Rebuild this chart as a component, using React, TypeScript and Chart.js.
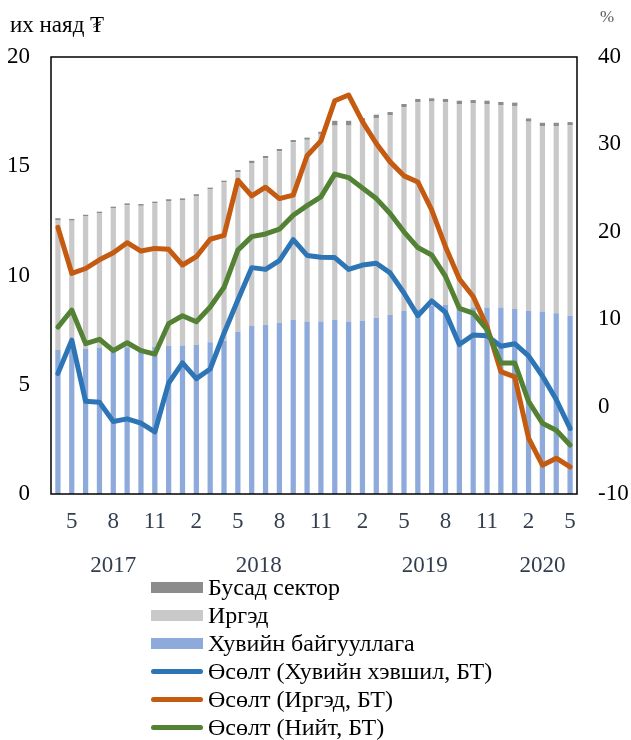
import React, { useEffect, useRef } from 'react';
import { Chart, registerables } from 'chart.js';

Chart.register(...registerables);

// ---- DATA ----
const categoryYears = [
  2017, 2017, 2017, 2017, 2017, 2017, 2017, 2017, 2017,
  2018, 2018, 2018, 2018, 2018, 2018, 2018, 2018, 2018, 2018, 2018, 2018,
  2019, 2019, 2019, 2019, 2019, 2019, 2019, 2019, 2019, 2019, 2019, 2019,
  2020, 2020, 2020, 2020, 2020,
];
const categoryMonths = [
  4, 5, 6, 7, 8, 9, 10, 11, 12,
  1, 2, 3, 4, 5, 6, 7, 8, 9, 10, 11, 12,
  1, 2, 3, 4, 5, 6, 7, 8, 9, 10, 11, 12,
  1, 2, 3, 4, 5,
];
const shownMonths = [2, 5, 8, 11];

// left axis (их наяд ₮)
const privateOrgs = [
  6.59, 6.6, 6.64, 6.7, 6.7, 6.72, 6.68, 6.74, 6.79,
  6.8, 6.82, 6.94, 7.0, 7.43, 7.69, 7.73, 7.84, 7.96, 7.89, 7.89, 7.96,
  7.89, 7.93, 8.07, 8.19, 8.37, 8.45, 8.6, 8.65, 8.6, 8.54, 8.53, 8.53,
  8.47, 8.39, 8.35, 8.27, 8.16,
];
const households = [
  5.95, 5.91, 6.06, 6.14, 6.37, 6.5, 6.51, 6.56, 6.62,
  6.65, 6.82, 7.0, 7.26, 7.3, 7.46, 7.64, 7.85, 8.14, 8.32, 8.59, 8.9,
  8.97, 9.12, 9.14, 9.14, 9.33, 9.48, 9.36, 9.28, 9.25, 9.34, 9.32, 9.26,
  9.29, 8.65, 8.49, 8.57, 8.71,
];
const otherSector = [
  0.08, 0.08, 0.08, 0.08, 0.08, 0.08, 0.08, 0.08, 0.08,
  0.08, 0.08, 0.08, 0.08, 0.1, 0.1, 0.1, 0.1, 0.1, 0.1, 0.1, 0.22,
  0.22, 0.15, 0.15, 0.15, 0.15, 0.15, 0.15, 0.15, 0.15, 0.15, 0.15, 0.15,
  0.15, 0.15, 0.15, 0.15, 0.15,
];

// right axis (%)
const growthPrivate = [
  3.8, 7.6, 0.6, 0.5, -1.7, -1.4, -1.9, -2.9, 2.7,
  5.0, 3.2, 4.3, 8.4, 12.2, 15.9, 15.7, 16.7, 19.1, 17.3, 17.1, 17.05,
  15.7, 16.2, 16.4, 15.3, 13.0, 10.4, 12.1, 10.8, 7.1, 8.2, 8.1, 6.9,
  7.2, 5.8, 3.5, 0.8, -2.5,
];
const growthHouseholds = [
  20.5, 15.25, 15.8, 16.8, 17.6, 18.75, 17.8, 18.1, 18.0,
  16.2, 17.15, 19.15, 19.6, 25.9, 24.1, 25.1, 23.8, 24.2, 28.7, 30.4, 35.0,
  35.65, 32.6, 30.1, 28.0, 26.4, 25.7, 22.5, 18.3, 14.6, 12.6, 9.15, 4.0,
  3.4, -3.6, -6.7, -5.9, -6.9,
];
const growthTotal = [
  9.1, 11.05, 7.2, 7.7, 6.4, 7.3, 6.4, 6.0, 9.5,
  10.4, 9.7, 11.4, 13.65, 17.9, 19.45, 19.75, 20.3, 21.9, 23.0, 24.0, 26.6,
  26.2, 25.0, 23.8, 22.1, 20.0, 18.2, 17.35, 14.9, 11.25, 10.7, 8.8, 5.0,
  5.0, 0.6, -1.9, -2.7, -4.4,
];

const leftTitle = 'их наяд ₮';
const rightTitle = '%';

// ---- STYLE ----
const FONT = "'Liberation Serif', 'Times New Roman', serif";
const C_PRIVATE = '#8eaadb';
const C_HOUSE = '#c9c9c9';
const C_OTHER = '#8c8c8c';
const C_L_PRIVATE = '#2e75b6';
const C_L_HOUSE = '#c55a11';
const C_L_TOTAL = '#548235';
const AXIS_TEXT = '#333f4f';

const legendItems = [
  { label: 'Бусад сектор', color: C_OTHER, kind: 'box' },
  { label: 'Иргэд', color: C_HOUSE, kind: 'box' },
  { label: 'Хувийн байгууллага', color: C_PRIVATE, kind: 'box' },
  { label: 'Өсөлт (Хувийн хэвшил, БТ)', color: C_L_PRIVATE, kind: 'line' },
  { label: 'Өсөлт (Иргэд, БТ)', color: C_L_HOUSE, kind: 'line' },
  { label: 'Өсөлт (Нийт, БТ)', color: C_L_TOTAL, kind: 'line' },
];

const decorPlugin = {
  id: 'decor',
  afterDraw(chart: any) {
    const { ctx, chartArea, scales } = chart;
    const { left, top, right, bottom } = chartArea;
    ctx.save();
    ctx.strokeStyle = '#000';
    ctx.lineWidth = 1.5;
    ctx.strokeRect(left, top, right - left, bottom - top);

    // year group labels
    const xs = scales.x;
    const groups: { [k: string]: number[] } = {};
    categoryYears.forEach((y, i) => {
      const k = String(y);
      if (!groups[k]) groups[k] = [i, i];
      groups[k][1] = i;
    });
    ctx.fillStyle = AXIS_TEXT;
    ctx.font = `23px ${FONT}`;
    ctx.textAlign = 'center';
    ctx.textBaseline = 'middle';
    Object.keys(groups).forEach((k) => {
      const [a, b] = groups[k];
      const px = xs.getPixelForValue((a + b) / 2);
      ctx.fillText(k, px, 566);
    });

    // axis titles
    ctx.fillStyle = '#000';
    ctx.textAlign = 'left';
    ctx.font = `23px ${FONT}`;
    ctx.fillText(leftTitle, 10, 26);
    ctx.fillStyle = '#595959';
    ctx.textAlign = 'center';
    ctx.font = `17px ${FONT}`;
    ctx.fillText(rightTitle, 607, 18);
    ctx.restore();
  },
};

export default function App() {
  const ref = useRef<HTMLCanvasElement | null>(null);

  useEffect(() => {
    if (!ref.current) return;
    const labels = categoryYears.map((y, i) => `${y}-${categoryMonths[i]}`);
    const lineCommon = {
      type: 'line' as const,
      yAxisID: 'y1',
      borderWidth: 5,
      pointRadius: 0,
      tension: 0,
      borderCapStyle: 'round' as const,
      borderJoinStyle: 'round' as const,
      fill: false,
    };
    const barCommon = {
      type: 'bar' as const,
      yAxisID: 'y',
      barPercentage: 0.38,
      categoryPercentage: 1,
      stack: 's',
    };
    const chart = new Chart(ref.current, {
      data: {
        labels,
        datasets: [
          { ...lineCommon, label: 'Өсөлт (Нийт, БТ)', data: growthTotal, borderColor: C_L_TOTAL, backgroundColor: C_L_TOTAL, order: 0 },
          { ...lineCommon, label: 'Өсөлт (Иргэд, БТ)', data: growthHouseholds, borderColor: C_L_HOUSE, backgroundColor: C_L_HOUSE, order: 1 },
          { ...lineCommon, label: 'Өсөлт (Хувийн хэвшил, БТ)', data: growthPrivate, borderColor: C_L_PRIVATE, backgroundColor: C_L_PRIVATE, order: 2 },
          { ...barCommon, label: 'Хувийн байгууллага', data: privateOrgs, backgroundColor: C_PRIVATE, order: 3 },
          { ...barCommon, label: 'Иргэд', data: households, backgroundColor: C_HOUSE, order: 4 },
          { ...barCommon, label: 'Бусад сектор', data: otherSector, backgroundColor: C_OTHER, order: 5 },
        ] as any,
      },
      options: {
        animation: false,
        responsive: false,
        events: [],
        layout: { padding: { top: 57, bottom: 156, left: 0, right: 0 } },
        plugins: { legend: { display: false }, tooltip: { enabled: false } },
        scales: {
          x: {
            stacked: true,
            offset: true,
            grid: { display: false, drawTicks: false },
            border: { display: false },
            ticks: {
              autoSkip: false,
              maxRotation: 0,
              padding: 14,
              color: AXIS_TEXT,
              font: { family: FONT, size: 23 },
              callback: (_v: any, i: number) =>
                shownMonths.includes(categoryMonths[i]) ? String(categoryMonths[i]) : '',
            },
            afterFit: (s: any) => { s.height = 90; },
          },
          y: {
            position: 'left',
            stacked: true,
            min: 0,
            max: 20,
            grid: { display: false, drawTicks: false },
            border: { display: false },
            ticks: { stepSize: 5, padding: 21, color: '#000', font: { family: FONT, size: 23 } },
            afterFit: (s: any) => { s.width = 51; },
          },
          y1: {
            position: 'right',
            stacked: false,
            min: -10,
            max: 40,
            grid: { display: false, drawTicks: false },
            border: { display: false },
            ticks: { stepSize: 10, padding: 21, color: '#000', font: { family: FONT, size: 23 } },
            afterFit: (s: any) => { s.width = 54; },
          },
        },
      } as any,
      plugins: [decorPlugin],
    });
    return () => chart.destroy();
  }, []);

  return (
    <>
      <canvas ref={ref} width={631} height={740} style={{ position: 'absolute', left: 0, top: 0, width: 631, height: 740 }} />
      {legendItems.map((it, i) => (
        <div
          key={it.label}
          style={{
            position: 'absolute',
            left: 151,
            top: 573 + 28 * i,
            height: 28,
            display: 'flex',
            alignItems: 'center',
            fontFamily: FONT,
            fontSize: 24,
            color: '#000',
            whiteSpace: 'nowrap',
          }}
        >
          <span
            style={{
              display: 'inline-block',
              width: 52,
              height: it.kind === 'box' ? 11 : 5,
              borderRadius: it.kind === 'box' ? 0 : 3,
              background: it.color,
              marginRight: 5,
            }}
          />
          <span>{it.label}</span>
        </div>
      ))}
    </>
  );
}
